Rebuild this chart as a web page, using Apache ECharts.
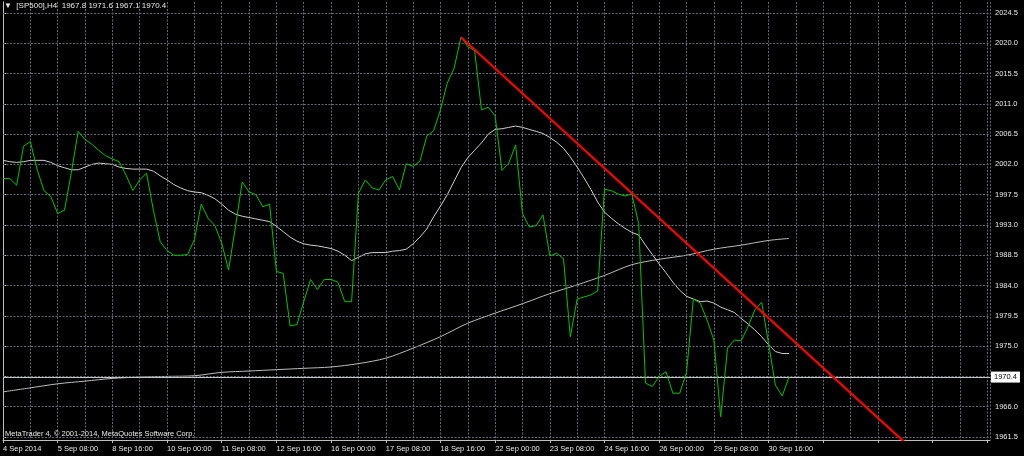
<!DOCTYPE html>
<html>
<head>
<meta charset="utf-8">
<script src="https://cdn.jsdelivr.net/npm/echarts@6/dist/echarts.min.js"></script>
<style>
html,body{margin:0;padding:0;background:#000;}
#chart{width:1024px;height:456px;}
</style>
</head>
<body>
<div id="chart"></div>
<script>
// ---- data ----
const chartTitle = '\u25BC  [SP500],H4  1967.8 1971.6 1967.1 1970.4';
const copyright = 'MetaTrader 4, \u00A9 2001-2014, MetaQuotes Software Corp.';
const timeLabels = ['4 Sep 2014','5 Sep 08:00','8 Sep 16:00','10 Sep 00:00','11 Sep 08:00','12 Sep 16:00','16 Sep 00:00','17 Sep 08:00','18 Sep 16:00','22 Sep 00:00','23 Sep 08:00','24 Sep 16:00','26 Sep 00:00','29 Sep 08:00','30 Sep 16:00'];
const barsPerLabel = 8;
const barsPerGrid = 4;
const priceTicks = [1961.5,1966.0,1970.5,1975.0,1979.5,1984.0,1988.5,1993.0,1997.5,2002.0,2006.5,2011.0,2015.5,2020.0,2024.5];
const closes = [
 1999.9,1999.9,1998.9,2004.7,2005.4,2001.2,1998.1,1997.2,1994.7,1995.2,
 2000.8,2006.9,2005.7,2005.0,2004.1,2003.3,2002.8,2002.4,2000.4,1998.1,
 1999.7,2000.7,1995.2,1990.5,1989.2,1988.5,1988.5,1988.6,1990.8,1996.1,
 1994.0,1992.9,1990.3,1986.3,1992.7,1999.4,1997.9,1997.5,1995.7,1996.1,
 1986.1,1985.8,1978.0,1978.2,1981.6,1984.9,1983.4,1984.9,1984.9,1984.5,
 1981.6,1981.6,1997.7,1999.7,1998.5,1998.2,1999.7,2000.2,1998.2,2002.1,
 2001.7,2002.5,2006.2,2007.0,2010.1,2014.1,2016.3,2020.9,2019.5,2018.9,
 2010.1,2010.5,2009.2,2001.1,2002.2,2004.9,1994.7,1992.7,1992.9,1994.5,
 1988.4,1988.8,1988.0,1976.4,1982.0,1982.3,1982.6,1983.2,1998.3,1998.1,
 1997.6,1997.3,1997.6,1993.2,1969.5,1969.0,1970.5,1971.2,1968.0,1968.0,
 1971.1,1982.0,1981.4,1978.9,1975.9,1964.5,1974.7,1975.9,1975.8,1977.9,
 1980.4,1981.5,1975.4,1969.2,1967.6,1970.4
];
const fastMa = [
 2002.6,2002.4,2002.3,2002.4,2002.6,2002.6,2002.6,2002.3,2001.8,2001.5,
 2001.2,2001.2,2001.6,2002.0,2002.2,2002.1,2002.0,2001.6,2001.4,2001.3,
 2001.3,2001.3,2001.0,2000.3,1999.7,1999.0,1998.5,1998.1,1997.9,1997.8,
 1997.4,1996.9,1996.1,1995.2,1994.6,1994.3,1994.1,1993.9,1993.7,1993.5,
 1992.8,1992.0,1991.2,1990.6,1990.2,1990.0,1989.9,1989.7,1989.5,1989.1,
 1988.5,1987.7,1988.2,1988.7,1988.9,1988.9,1988.9,1989.1,1989.2,1989.4,
 1990.2,1991.2,1992.4,1994.2,1995.8,1997.5,1999.5,2001.5,2003.0,2004.1,
 2005.2,2006.5,2007.2,2007.3,2007.5,2007.7,2007.5,2007.2,2006.9,2006.6,
 2006.0,2005.3,2004.4,2003.1,2001.6,2000.0,1998.3,1996.4,1994.9,1994.0,
 1993.2,1992.5,1991.9,1991.5,1990.0,1988.6,1987.2,1985.9,1984.5,1983.3,
 1982.4,1982.0,1981.6,1981.7,1981.4,1980.8,1980.4,1980.0,1979.1,1978.3,
 1977.4,1976.4,1975.2,1974.2,1973.9,1973.9
];
const slowMa = [
 [0,1968.2],[4,1968.8],[8,1969.4],[12,1969.8],[16,1970.2],[20,1970.4],[24,1970.5],[28,1970.6],
 [32,1971.1],[36,1971.3],[40,1971.5],[44,1971.7],[48,1971.9],[52,1972.4],[56,1973.2],[60,1974.7],
 [64,1976.4],[68,1978.4],[72,1979.9],[76,1981.3],[80,1982.8],[84,1984.1],[88,1985.5],[92,1987.1],
 [96,1987.9],[100,1988.5],[104,1989.4],[108,1990.0],[112,1990.7],[115,1991.0]
];
const trendLine = [[67,2020.9],[133,1959.7]];
const lastPrice = 1970.4;
const xMax = 144.4;
const yMin = 1961.05, yMax = 2026.13;

// ---- chart ----
const FONT = 'Liberation Sans, Arial, sans-serif';
const TXT = '#e8e8e8';
const GRID = '#606b79';
const BORDER = '#bfbfbf';
const chart = echarts.init(document.getElementById('chart'), null, {renderer: 'canvas'});
const closeData = closes.map((v, i) => [i, v]);
const fastData = fastMa.map((v, i) => [i, v]);

chart.setOption({
  backgroundColor: '#000',
  animation: false,
  title: [
    {text: chartTitle, left: 4, top: 2, padding: 0,
     textStyle: {color: TXT, fontSize: 8, fontWeight: 'normal', fontFamily: FONT}},
    {text: copyright, left: 5, top: 430, padding: 0,
     textStyle: {color: TXT, fontSize: 7.5, fontWeight: 'normal', fontFamily: FONT}}
  ],
  grid: {left: 2, right: 34, top: 2, bottom: 16, containLabel: false},
  xAxis: [
    {type: 'value', min: 0, max: xMax, interval: barsPerGrid,
     axisLine: {show: true, onZero: false, lineStyle: {color: BORDER, width: 1}},
     axisTick: {show: false}, axisLabel: {show: false},
     splitLine: {show: true, lineStyle: {color: GRID, type: [2, 1.5], width: 1}}},
    {type: 'value', min: 0, max: xMax, interval: barsPerLabel, position: 'bottom',
     axisLine: {show: false, onZero: false},
     axisTick: {show: true, length: 3, lineStyle: {color: BORDER}},
     splitLine: {show: false},
     axisLabel: {show: true, color: TXT, fontSize: 7.5, fontFamily: FONT, align: 'left', margin: 5,
       showMinLabel: true, showMaxLabel: false, hideOverlap: false,
       formatter: v => (v % barsPerLabel === 0 && timeLabels[v / barsPerLabel]) ? timeLabels[v / barsPerLabel] : ''}}
  ],
  yAxis: [
    {type: 'value', min: yMin, max: yMax, position: 'right', scale: true,
     axisLine: {show: true, lineStyle: {color: BORDER, width: 1}},
     axisTick: {show: true, length: 3, customValues: priceTicks, lineStyle: {color: BORDER}},
     splitLine: {show: false},
     axisLabel: {show: true, customValues: priceTicks, color: TXT, fontSize: 7.5, fontFamily: FONT, margin: 5,
       formatter: v => v.toFixed(1)}},
    {type: 'value', min: yMin, max: yMax, position: 'left', scale: true,
     axisLine: {show: true, lineStyle: {color: BORDER, width: 1}},
     axisTick: {show: false}, axisLabel: {show: false}, splitLine: {show: false}}
  ],
  series: [
    {type: 'line', name: 'grid', xAxisIndex: 0, yAxisIndex: 0, data: [[0, priceTicks[0]]], symbol: 'none',
     lineStyle: {opacity: 0}, silent: true, z: 1,
     markLine: {silent: true, symbol: ['none', 'none'], animation: false,
       lineStyle: {color: GRID, type: [2, 1.5], width: 1},
       label: {show: false},
       data: priceTicks.map(v => ({yAxis: v}))}},
    {type: 'line', name: 'price', xAxisIndex: 0, yAxisIndex: 0, data: [[0, lastPrice]], symbol: 'none',
     lineStyle: {opacity: 0}, silent: true, z: 2,
     markLine: {silent: true, symbol: ['none', 'none'], animation: false,
       lineStyle: {color: '#c4c4c4', type: 'solid', width: 1},
       label: {show: true, position: 'end', distance: 1, formatter: lastPrice.toFixed(1),
         color: '#000', backgroundColor: '#fff', padding: [2, 3, 1, 3], fontSize: 7.5, fontFamily: FONT},
       data: [{yAxis: lastPrice}]}},
    {type: 'line', name: 'slow', xAxisIndex: 0, yAxisIndex: 0, data: slowMa, symbol: 'none', smooth: 0.3,
     lineStyle: {color: '#bcbcbc', width: 1}, z: 3},
    {type: 'line', name: 'fast', xAxisIndex: 0, yAxisIndex: 0, data: fastData, symbol: 'none',
     lineStyle: {color: '#cfcfcf', width: 1}, z: 4},
    {type: 'line', name: 'close', xAxisIndex: 0, yAxisIndex: 0, data: closeData, symbol: 'none',
     lineStyle: {color: '#00c400', width: 1}, z: 5},
    {type: 'line', name: 'trend', xAxisIndex: 0, yAxisIndex: 0, data: trendLine, symbol: 'none', clip: true,
     lineStyle: {color: '#ff0000', width: 2.2}, z: 6}
  ]
});
</script>
</body>
</html>
